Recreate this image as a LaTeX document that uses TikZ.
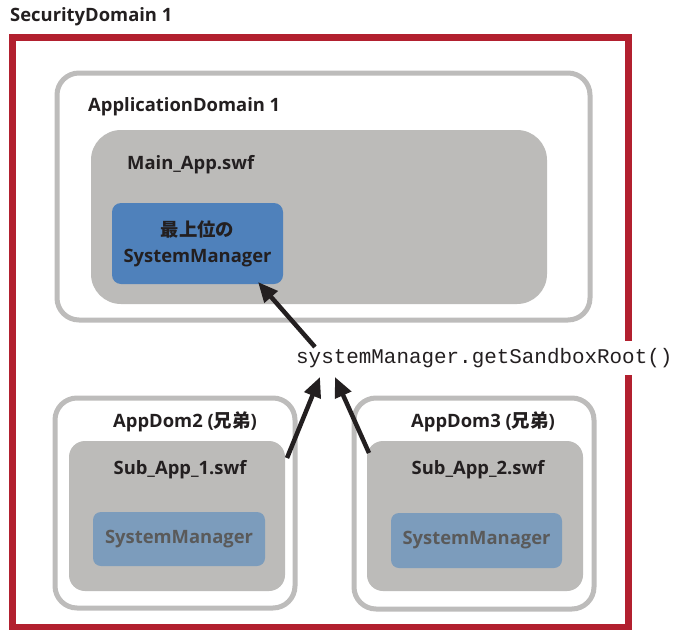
\documentclass[tikz,border=0pt]{standalone}
\usepackage{fontspec}
\setmainfont{Open Sans}
\newfontfamily\cjk{Noto Sans CJK JP}
\newfontfamily\codefont{Liberation Mono}
\usetikzlibrary{arrows.meta}
\definecolor{secred}{HTML}{B2202F}
\definecolor{edgegray}{HTML}{BDBCBB}
\definecolor{fillgray}{HTML}{BCBBB9}
\definecolor{topblue}{HTML}{4F81BB}
\definecolor{lightblue}{HTML}{7C9CBC}
\definecolor{ink}{HTML}{231F20}
\definecolor{dimtext}{HTML}{5A5A5A}
\tikzset{
  secbox/.style={draw=secred, line width=7pt, rectangle, inner sep=0pt},
  domainbox/.style={draw=edgegray, line width=5pt, fill=white, rectangle, rounded corners=22pt, inner sep=0pt},
  swfbox/.style={fill=fillgray, rectangle, rounded corners=16pt, inner sep=0pt},
  topsm/.style={fill=topblue, rectangle, rounded corners=9pt, inner sep=0pt, align=center, text=ink, font=\fontsize{18.4}{26}\selectfont\bfseries},
  subsm/.style={fill=lightblue, rectangle, rounded corners=8pt, inner sep=0pt, text=dimtext, font=\fontsize{18.4}{20}\selectfont\bfseries},
  lbl/.style={inner sep=0pt, text=ink, font=\fontsize{18.4}{20}\selectfont\bfseries},
  codelbl/.style={inner sep=0pt, fill=white, minimum height=34pt, text=ink, font=\fontsize{20.9}{24}\codefont},
  callarrow/.style={draw=ink, line width=4.5pt, -{Triangle[length=20pt,width=17pt]}}
}
\begin{document}
\begin{tikzpicture}[x=1pt,y=-1pt]
\useasboundingbox (0,0) rectangle (677,629);
% security domain
\node[secbox, minimum width=615.5pt, minimum height=589.5pt] (sd) at (320.25,332.25) {};
\node[lbl, anchor=west] (sdl) at (10,17) {SecurityDomain 1};
% application domain 1
\node[domainbox, minimum width=533pt, minimum height=247pt] (ad1) at (323.5,196.5) {};
\node[lbl, anchor=west] (ad1l) at (88,107) {ApplicationDomain 1};
\node[swfbox, rounded corners=30pt, minimum width=456pt, minimum height=174pt] (main) at (319,217) {};
\node[lbl, anchor=west] (mainl) at (127,165) {Main\_App.swf};
\node[topsm, minimum width=171pt, minimum height=81pt] (top) at (197.5,243.5) {{\cjk\bfseries 最上位の}\\SystemManager};
% app domain 2
\node[domainbox, minimum width=240pt, minimum height=210pt] (ad2) at (175,503) {};
\node[lbl] (ad2l) at (185,422) {AppDom2 ({\cjk\bfseries 兄弟})};
\node[swfbox, minimum width=216pt, minimum height=150pt] (sub1) at (177,516) {};
\node[lbl] (sub1l) at (180,470) {Sub\_App\_1.swf};
\node[subsm, minimum width=172pt, minimum height=54pt] (sm1) at (179,539) {SystemManager};
% app domain 3
\node[domainbox, minimum width=240pt, minimum height=211pt] (ad3) at (474,503.5) {};
\node[lbl] (ad3l) at (483,422) {AppDom3 ({\cjk\bfseries 兄弟})};
\node[swfbox, minimum width=216pt, minimum height=150pt] (sub2) at (475,516) {};
\node[lbl] (sub2l) at (478,470) {Sub\_App\_2.swf};
\node[subsm, minimum width=171pt, minimum height=55pt] (sm2) at (476.5,540.5) {SystemManager};
% call
\node[codelbl, anchor=west] (code) at (296,358) {systemManager.getSandboxRoot()};
\coordinate (c1) at (315,347);
\coordinate (t1) at (258,282);
\coordinate (s2) at (287,458);
\coordinate (t2) at (320,377);
\coordinate (s3) at (369,453);
\coordinate (t3) at (335,377);
\draw[callarrow] (c1) -- (t1);
\draw[callarrow] (s2) -- (t2);
\draw[callarrow] (s3) -- (t3);
\end{tikzpicture}
\end{document}
